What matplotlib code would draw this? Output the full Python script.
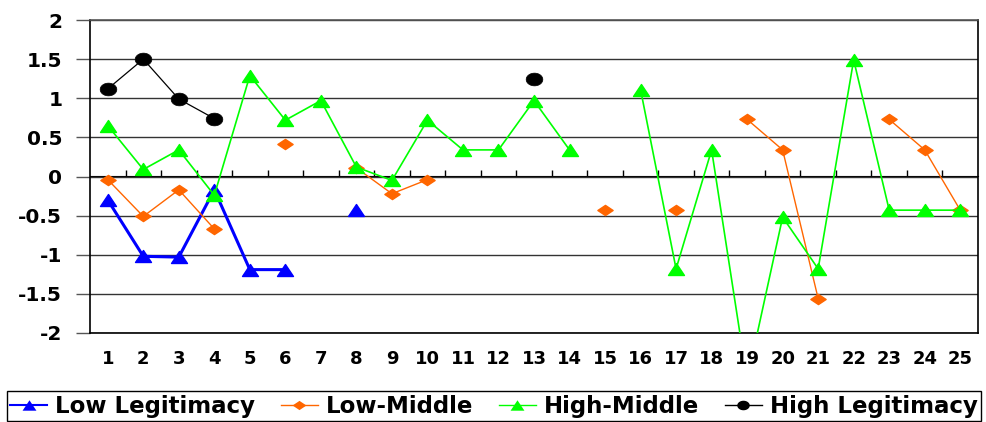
import numpy as np
import matplotlib
matplotlib.use("Agg")
import matplotlib.pyplot as plt
from matplotlib.path import Path
from matplotlib.lines import Line2D

nan = np.nan
categories = list(range(1, 26))
low_legit = [-0.30, -1.02, -1.03, -0.17, -1.19, -1.19, nan, -0.43, nan, nan,
             nan, nan, nan, nan, nan, nan, nan, nan, nan, nan,
             nan, nan, nan, nan, nan]
low_middle = [-0.04, -0.51, -0.17, -0.67, nan, 0.42, nan, 0.11, -0.22, -0.04,
              nan, nan, nan, nan, -0.43, nan, -0.43, nan, 0.73, 0.34,
              -1.56, nan, 0.73, 0.34, -0.43]
high_middle = [0.65, 0.09, 0.34, -0.24, 1.29, 0.72, 0.97, 0.12, -0.05, 0.72,
               0.34, 0.34, 0.97, 0.34, nan, 1.11, -1.18, 0.34, -2.6, -0.52,
               -1.18, 1.49, -0.43, -0.43, -0.43]
high_legit = [1.12, 1.50, 0.99, 0.74, nan, nan, nan, nan, nan, nan,
              nan, nan, 1.24, nan, nan, nan, nan, nan, nan, nan,
              nan, nan, nan, nan, nan]
y_ticks = [-2, -1.5, -1, -0.5, 0, 0.5, 1, 1.5, 2]
y_labels = ["-2", "-1.5", "-1", "-0.5", "0", "0.5", "1", "1.5", "2"]

plt.rcParams['font.family'] = ['DejaVu Sans']
plt.rcParams['font.weight'] = 'bold'

# stretched marker shapes (image is horizontally stretched)
tri = Path([(0, 6), (-8, -6), (8, -6), (0, 6)], closed=True)
dia = Path([(0, 5), (7.5, 0), (0, -5), (-7.5, 0), (0, 5)], closed=True)
t = np.linspace(0, 2 * np.pi, 40)
ell = Path(np.column_stack([8.5 * np.cos(t), 6.5 * np.sin(t)]), closed=True)

fig = plt.figure(figsize=(9.86, 4.22), dpi=100)
ax = fig.add_axes([90 / 986, 1 - 333 / 422, 888 / 986, 313 / 422])

x = np.array(categories)
ax.plot(x, low_legit, color='#0000FF', lw=2.2, marker=tri, ms=11.5,
        mec='#0000FF', mew=1, label='Low Legitimacy', zorder=3)
ax.plot(x, low_middle, color='#FF6600', lw=1.0, marker=dia, ms=11,
        mec='#FF6600', mew=1, label='Low-Middle', zorder=4)
ax.plot(x, high_middle, color='#00FF00', lw=1.2, marker=tri, ms=11.5,
        mec='#00FF00', mew=1, label='High-Middle', zorder=5)
ax.plot(x, high_legit, color='black', lw=0.9, marker=ell, ms=12,
        mec='black', mew=0.5, label='High Legitimacy', zorder=6)

ax.set_xlim(0.5, 25.5)
ax.set_ylim(-2, 2)
ax.set_yticks(y_ticks, labels=y_labels)
ax.set_xticks(categories, labels=[str(c) for c in categories])
ax.tick_params(axis='x', length=0, pad=12, labelsize=13)
ax.tick_params(axis='y', length=10, width=1, color='#555555', pad=10,
               labelsize=14.5, direction='out')
ax.grid(axis='y', color='#333333', lw=1.0, zorder=0)
ax.set_axisbelow(True)
for s in ['left', 'right', 'bottom']:
    ax.spines[s].set_color('black')
    ax.spines[s].set_linewidth(1.2)
ax.spines['top'].set_color('#555555')
ax.spines['top'].set_linewidth(1.2)

# category axis crossing at zero with tick marks between categories
sec = ax.secondary_xaxis(0.5)
sec.set_xticks(np.arange(1.5, 25.5, 1.0), labels=[])
sec.tick_params(axis='x', length=4, width=1, color='black', direction='out')
sec.spines['bottom'].set_color('#444444')
sec.spines['bottom'].set_linewidth(1.0)

handles = [
    Line2D([], [], color='#0000FF', lw=1.5, marker=tri, ms=10, mew=0),
    Line2D([], [], color='#FF6600', lw=1.0, marker=dia, ms=10, mew=0),
    Line2D([], [], color='#00FF00', lw=1.0, marker=tri, ms=10, mew=0),
    Line2D([], [], color='black', lw=1.0, marker=ell, ms=9, mew=0),
]
labels = ['Low Legitimacy', 'Low-Middle', 'High-Middle', 'High Legitimacy']
leg = fig.legend(handles, labels, loc='lower left', ncol=4, mode='expand',
                 bbox_to_anchor=(7 / 986, 1 / 422, 974 / 986, 33 / 422),
                 borderaxespad=0, fancybox=False, edgecolor='black',
                 framealpha=1, prop={'size': 16.5, 'weight': 'bold'},
                 handlelength=1.6, handletextpad=0.35, columnspacing=0.6,
                 borderpad=0.15)
leg.get_frame().set_linewidth(1.0)

fig.savefig('out.png', dpi=100)
